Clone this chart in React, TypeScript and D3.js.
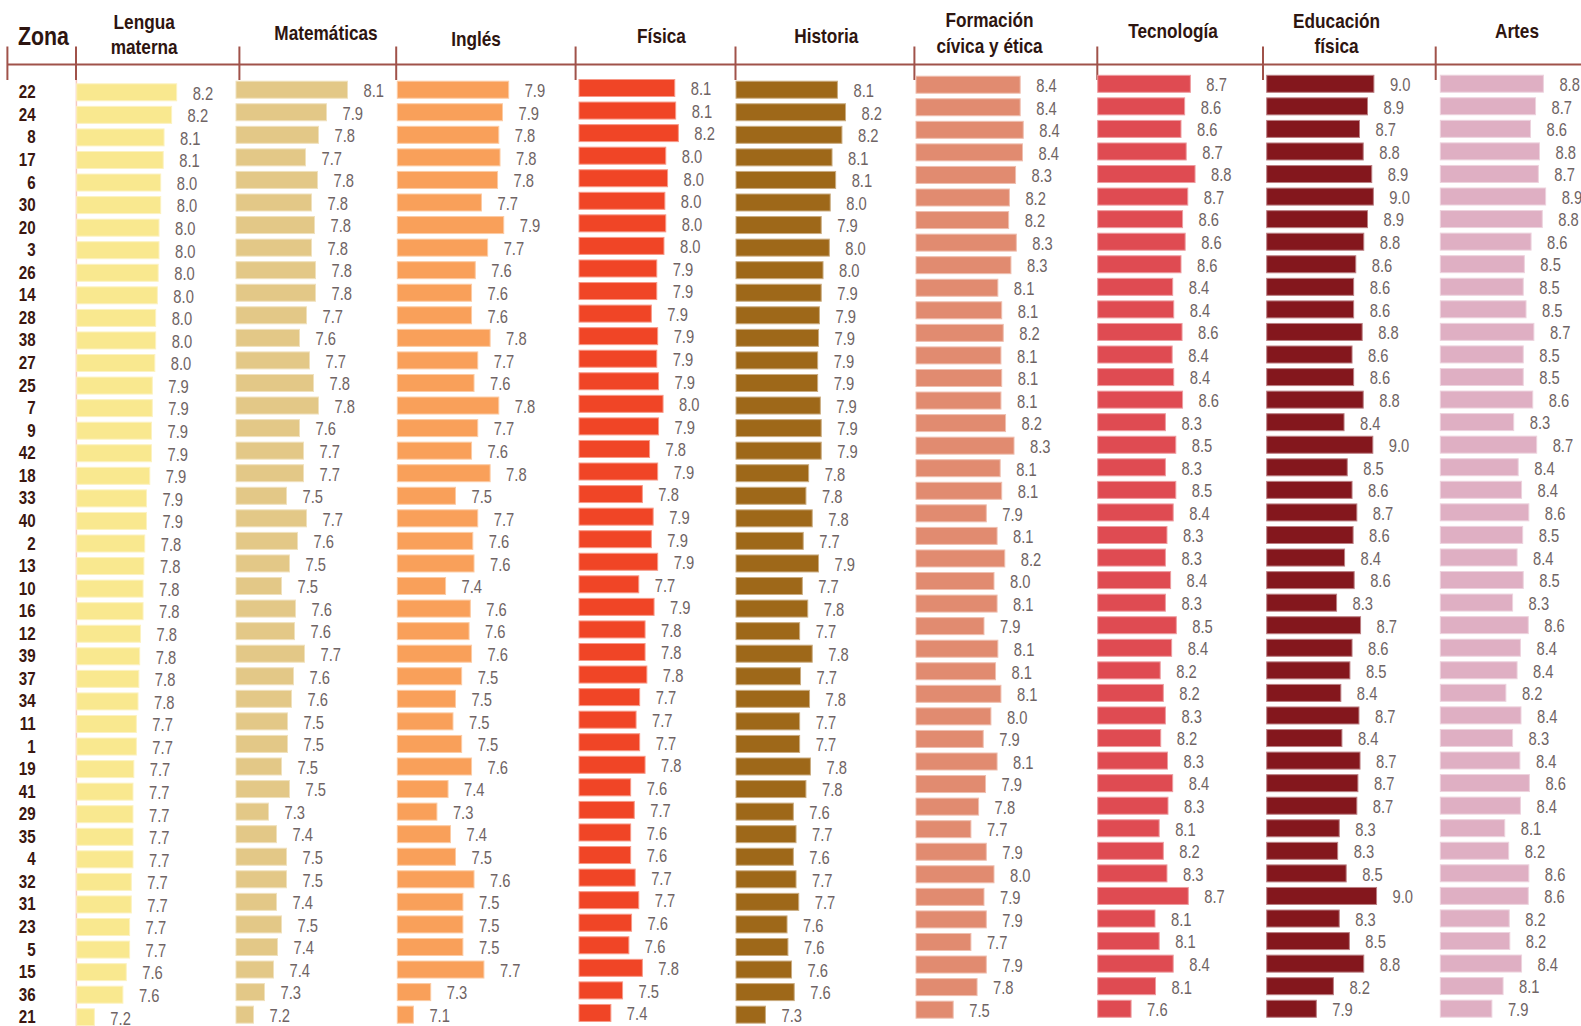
import React from 'react';
import * as d3 from 'd3';

// ---------- DATA ----------
const zonas = [22, 24, 8, 17, 6, 30, 20, 3, 26, 14, 28, 38, 27, 25, 7, 9, 42, 18, 33, 40, 2, 13, 10, 16, 12, 39, 37, 34, 11, 1, 19, 41, 29, 35, 4, 32, 31, 23, 5, 15, 36, 21];

const materias = [
  ['Lengua', 'materna'],
  ['Matemáticas'],
  ['Inglés'],
  ['Física'],
  ['Historia'],
  ['Formación', 'cívica y ética'],
  ['Tecnología'],
  ['Educación', 'física'],
  ['Artes'],
];

const lenguaMaterna = [8.22, 8.16, 8.07, 8.06, 8.03, 8.03, 8.01, 8.01, 8.00, 7.99, 7.97, 7.97, 7.96, 7.93, 7.93, 7.92, 7.92, 7.90, 7.86, 7.86, 7.84, 7.83, 7.82, 7.82, 7.79, 7.78, 7.77, 7.76, 7.74, 7.74, 7.71, 7.70, 7.70, 7.70, 7.70, 7.68, 7.68, 7.66, 7.66, 7.62, 7.58, 7.24];
const matematicas = [8.12, 7.91, 7.83, 7.70, 7.82, 7.76, 7.79, 7.76, 7.80, 7.80, 7.71, 7.64, 7.74, 7.78, 7.83, 7.64, 7.68, 7.68, 7.51, 7.71, 7.62, 7.54, 7.46, 7.60, 7.59, 7.69, 7.58, 7.56, 7.52, 7.52, 7.46, 7.54, 7.33, 7.41, 7.51, 7.51, 7.41, 7.46, 7.42, 7.38, 7.29, 7.18];
const ingles = [7.91, 7.86, 7.83, 7.84, 7.82, 7.69, 7.87, 7.74, 7.64, 7.61, 7.61, 7.76, 7.66, 7.63, 7.83, 7.66, 7.61, 7.76, 7.48, 7.66, 7.62, 7.63, 7.40, 7.60, 7.59, 7.61, 7.53, 7.48, 7.46, 7.53, 7.61, 7.42, 7.33, 7.44, 7.48, 7.63, 7.54, 7.54, 7.54, 7.71, 7.28, 7.14];
const fisica = [8.12, 8.13, 8.16, 8.02, 8.04, 8.01, 8.02, 8.00, 7.92, 7.92, 7.86, 7.93, 7.92, 7.94, 7.99, 7.94, 7.84, 7.93, 7.76, 7.88, 7.86, 7.93, 7.72, 7.89, 7.79, 7.79, 7.81, 7.73, 7.69, 7.73, 7.79, 7.63, 7.67, 7.63, 7.63, 7.68, 7.72, 7.64, 7.61, 7.76, 7.54, 7.41];
const historia = [8.12, 8.21, 8.17, 8.06, 8.10, 8.04, 7.94, 8.03, 7.96, 7.94, 7.92, 7.91, 7.90, 7.90, 7.93, 7.94, 7.94, 7.80, 7.77, 7.84, 7.74, 7.91, 7.73, 7.79, 7.70, 7.84, 7.71, 7.81, 7.70, 7.70, 7.82, 7.77, 7.63, 7.66, 7.63, 7.66, 7.69, 7.56, 7.57, 7.61, 7.64, 7.32];
const formacionCivica = [8.38, 8.38, 8.42, 8.41, 8.32, 8.24, 8.23, 8.33, 8.26, 8.09, 8.14, 8.16, 8.13, 8.14, 8.13, 8.19, 8.30, 8.12, 8.14, 7.94, 8.08, 8.18, 8.04, 8.08, 7.91, 8.09, 8.06, 8.13, 8.00, 7.90, 8.08, 7.93, 7.84, 7.74, 7.94, 8.04, 7.91, 7.94, 7.74, 7.94, 7.82, 7.51];
const tecnologia = [8.74, 8.63, 8.56, 8.66, 8.83, 8.69, 8.59, 8.64, 8.56, 8.40, 8.42, 8.58, 8.39, 8.42, 8.59, 8.26, 8.46, 8.26, 8.46, 8.41, 8.29, 8.26, 8.36, 8.26, 8.47, 8.38, 8.16, 8.22, 8.26, 8.17, 8.30, 8.40, 8.31, 8.14, 8.22, 8.29, 8.70, 8.06, 8.14, 8.41, 8.07, 7.60];
const educacionFisica = [8.98, 8.86, 8.71, 8.78, 8.94, 8.97, 8.86, 8.79, 8.64, 8.60, 8.60, 8.76, 8.57, 8.60, 8.78, 8.42, 8.96, 8.48, 8.57, 8.66, 8.59, 8.43, 8.61, 8.28, 8.73, 8.57, 8.53, 8.36, 8.70, 8.38, 8.72, 8.68, 8.66, 8.33, 8.30, 8.46, 9.03, 8.33, 8.52, 8.79, 8.22, 7.90];
const artes = [8.83, 8.69, 8.60, 8.76, 8.74, 8.87, 8.81, 8.61, 8.49, 8.47, 8.52, 8.66, 8.47, 8.47, 8.64, 8.30, 8.71, 8.38, 8.44, 8.57, 8.46, 8.36, 8.47, 8.28, 8.56, 8.42, 8.36, 8.16, 8.43, 8.28, 8.41, 8.58, 8.42, 8.14, 8.21, 8.57, 8.56, 8.22, 8.23, 8.44, 8.11, 7.91];

const series = [lenguaMaterna, matematicas, ingles, fisica, historia, formacionCivica, tecnologia, educacionFisica, artes];

// ---------- LAYOUT / STYLE ----------
const W = 1581;
const H = 1026;
const STEP = 22.56;
const BAR_H = 17;
const FONT = "'Liberation Sans', Arial, Helvetica, sans-serif";
const NARROW = 0.82;

const layout = [
  { x0: 76.7, y0: 92.3, min: 7.03, px: 84, color: '#f9e88f', hx: 144.2, hy: [28.7, 54] },
  { x0: 236, y0: 89.7, min: 7.005, px: 100, color: '#e3c887', hx: 326, hy: [40] },
  { x0: 397.3, y0: 89.7, min: 7.01, px: 123.75, color: '#f9a05a', hx: 476, hy: [45.6] },
  { x0: 579, y0: 88, min: 7.056, px: 90, color: '#f04526', hx: 661.5, hy: [43.3] },
  { x0: 736, y0: 89.7, min: 6.993, px: 90, color: '#9e6819', hx: 826.3, hy: [43.3] },
  { x0: 916, y0: 84.7, min: 7.027, px: 77, color: '#e18b70', hx: 989.5, hy: [27, 53.4] },
  { x0: 1097.7, y0: 83.8, min: 6.958, px: 52, color: '#df4b52', hx: 1173, hy: [37.9] },
  { x0: 1266.7, y0: 83.8, min: 6.969, px: 53.3, color: '#84171d', hx: 1336.6, hy: [27.7, 53.4] },
  { x0: 1440.3, y0: 83.7, min: 6.989, px: 56, color: '#dfafc3', hx: 1517, hy: [37.9] },
];
const ticksX = [7.4, 76, 239.4, 396.2, 575.6, 735.5, 914.4, 1097.3, 1263, 1435.7];

const RULE = '#a0524a';
const HEAD = '#2e1510';
const ZONE = '#3a1710';
const VAL = '#6f6464';

const fmt = d3.format('.1f');
const nt = (x: number, y: number, s = NARROW) => `translate(${x},${y}) scale(${s},1)`;

export default function App() {
  const zoneY = d3
    .scalePoint<string>()
    .domain(zonas.map(String))
    .range([91.7, 91.7 + STEP * (zonas.length - 1)]);

  return (
    <svg
      width={W}
      height={H}
      viewBox={`0 0 ${W} ${H}`}
      style={{ position: 'absolute', left: 0, top: 0, background: '#fff', fontFamily: FONT }}
    >
      <rect x={0} y={0} width={W} height={H} fill="#fff" />

      {/* Header rule */}
      <line x1={7} x2={W} y1={64.5} y2={64.5} stroke={RULE} strokeWidth={2} />
      {ticksX.map((x, i) => (
        <line key={i} x1={x} x2={x} y1={46.5} y2={80} stroke={RULE} strokeWidth={2} />
      ))}

      {/* Zona header */}
      <text transform={nt(43.5, 44.6)} textAnchor="middle" fontSize={26} fontWeight="bold" fill={HEAD}>
        Zona
      </text>

      {/* Subject headers */}
      {materias.map((lines, i) =>
        lines.map((ln, j) => (
          <text
            key={`${i}-${j}`}
            transform={nt(layout[i].hx, layout[i].hy[j])}
            textAnchor="middle"
            fontSize={21}
            fontWeight="bold"
            fill={HEAD}
          >
            {ln}
          </text>
        ))
      )}

      {/* Left axis of first chart */}
      <line x1={76.4} x2={76.4} y1={80} y2={H} stroke="#f6c8c0" strokeWidth={1.5} />

      {/* Zone labels */}
      {zonas.map((z) => (
        <text
          key={z}
          transform={nt(35.7, (zoneY(String(z)) as number) + 6.6)}
          textAnchor="end"
          fontSize={18.5}
          fontWeight="bold"
          fill={ZONE}
        >
          {z}
        </text>
      ))}

      {/* Bars */}
      {series.map((vals, ci) => {
        const L = layout[ci];
        const x = d3.scaleLinear().domain([L.min, L.min + 1]).range([0, L.px]);
        const y = d3
          .scalePoint<string>()
          .domain(zonas.map(String))
          .range([L.y0, L.y0 + STEP * (zonas.length - 1)]);
        const stroke = d3.interpolateRgb(L.color, '#ffffff')(0.45);
        return (
          <g key={ci}>
            {vals.map((v, ri) => {
              const cy = y(String(zonas[ri])) as number;
              const w = Math.max(0, x(v));
              return (
                <g key={ri}>
                  <rect
                    x={L.x0}
                    y={cy - BAR_H / 2}
                    width={w}
                    height={BAR_H}
                    fill={L.color}
                    stroke={stroke}
                    strokeWidth={1}
                  />
                  <text
                    transform={nt(L.x0 + w + 16, cy + 7.3)}
                    fontSize={18}
                    fill={VAL}
                  >
                    {fmt(v)}
                  </text>
                </g>
              );
            })}
          </g>
        );
      })}
    </svg>
  );
}
